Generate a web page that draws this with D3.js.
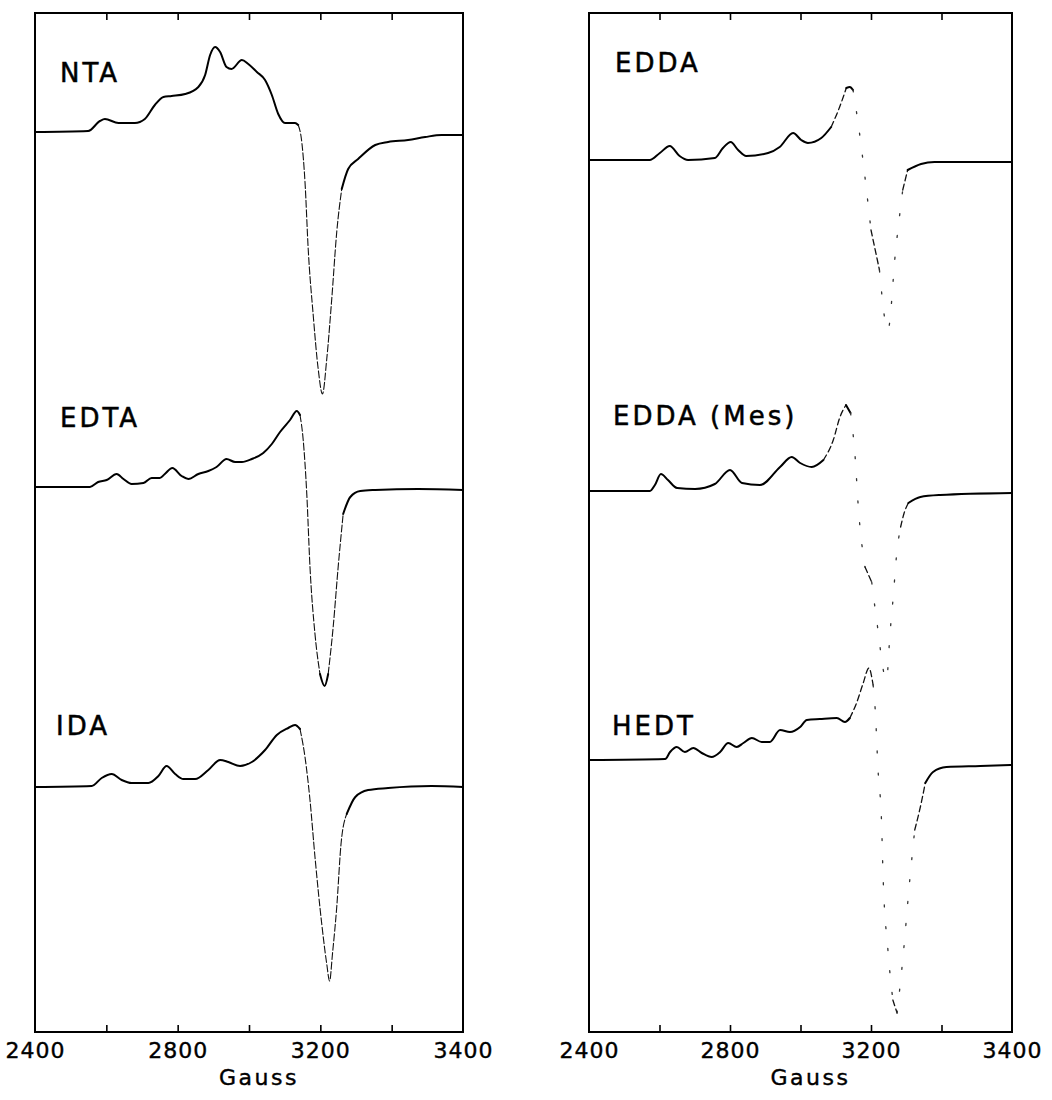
<!DOCTYPE html>
<html>
<head>
<meta charset="utf-8">
<script src="https://cdn.jsdelivr.net/npm/d3@7"></script>
<style>
  body { margin: 0; background: #fff; }
  svg { display: block; }
</style>
</head>
<body>
<svg id="chart" width="1052" height="1100"></svg>
<script>
// EPR first-derivative spectra of Cu(II) chelates.
// Field in Gauss; signal in arbitrary units relative to each trace's own baseline.

const ntaField  = [2400,2549,2582,2596,2634,2680,2708,2736,2760,2783,2821,2858,2877,2891,2905,2919,2937,2951,2980,2998,3022,3045,3064,3082,3101,3129,3138,3148,3157,3166,3180,3194,3203,3209,3216,3223,3230,3239,3253,3277,3295,3323,3347,3370,3400];
const ntaSignal = [0,1,11,13,9,9,13,27,35,36,38,45,57,77,85,80,65,63,72,68,60,52,37,18,9,9,7,-10,-50,-117,-183,-237,-262,-227,-167,-100,-57,-37,-27,-13,-10,-8,-5,-3,-3];

const edtaField  = [2400,2554,2577,2601,2629,2648,2671,2704,2727,2750,2764,2785,2811,2830,2858,2886,2909,2937,2961,2980,3008,3040,3064,3087,3115,3134,3143,3152,3162,3171,3185,3199,3206,3211,3218,3225,3232,3242,3256,3277,3337,3400];
const edtaSignal = [0,0,5,7,13,8,3,4,9,9,13,19,11,8,13,16,20,28,25,25,28,34,43,55,67,76,72,47,-7,-80,-147,-187,-199,-187,-140,-80,-27,-10,-4,-3,-2,-3];

const idaField  = [2400,2559,2587,2615,2643,2671,2718,2746,2769,2793,2816,2849,2886,2919,2942,2975,3008,3045,3078,3110,3129,3143,3157,3171,3185,3202,3209,3213,3217,3223,3229,3237,3249,3267,3295,3356,3400];
const idaSignal = [0,1,9,13,7,4,4,11,21,13,8,8,17,27,25,21,25,37,52,59,62,58,30,-13,-70,-137,-177,-194,-167,-120,-57,-27,-10,-3,-1,1,0];

const eddaField  = [2400,2572,2601,2629,2657,2681,2757,2780,2802,2823,2846,2908,2941,2979,3002,3021,3059,3087,3111,3130,3140,3149,3158,3163,3200,3212,3224,3235,3245,3252,3271,3290,3400];
const eddaSignal = [0,0,7,14,4,0,2,12,18,10,4,7,13,27,20,17,22,33,53,72,73,70,50,38,-70,-110,-170,-90,-30,-10,-4,-2,-2];

const eddaMesField  = [2400,2573,2587,2604,2624,2650,2701,2757,2800,2834,2885,2942,2975,2999,3032,3065,3093,3112,3129,3142,3155,3164,3183,3201,3208,3222,3227,3232,3236,3242,3247,3253,3270,3298,3400];
const eddaMesSignal = [0,0,6,17,11,3,2,7,21,8,6,24,34,28,24,31,51,74,86,78,34,-16,-76,-91,-129,-189,-142,-102,-66,-36,-22,-12,-6,-4,-2];

const hedtField  = [2400,2616,2630,2649,2672,2696,2720,2748,2772,2795,2819,2838,2862,2890,2913,2942,2970,2999,3018,3055,3103,3126,3140,3159,3178,3194,3203,3206,3210,3215,3217,3224,3231,3237,3245,3255,3262,3270,3277,3288,3307,3355,3400];
const hedtSignal = [0,1,8,13,8,12,7,3,8,17,13,17,22,18,18,30,28,33,40,41,42,38,42,57,77,92,75,50,-10,-63,-113,-190,-240,-253,-200,-120,-70,-47,-23,-12,-7,-6,-5];

const traceNames = ["NTA", "EDTA", "IDA", "EDDA", "EDDA (Mes)", "HEDT"];
const baselines  = [900, 545, 245, 872, 541, 272];   // vertical offset of each trace (a.u.)
const fieldLabels = [2400, 2800, 3200, 3400];        // labelled field values
const fieldTicks  = [2600, 2800, 3000, 3200, 3300];  // inner tick marks
const axisTitle = "Gauss";

// ---------- layout ----------
const svg = d3.select("#chart");
const frameTop = 13, frameBottom = 1032;
const panels = [
  { x0: 35,  x1: 463,  traces: [0, 1, 2], labelX: [60, 60, 56], labelY: [82, 427, 735],
    t1: 4.5, t2: Infinity },
  { x0: 589, x1: 1012, traces: [3, 4, 5], labelX: [615, 613, 612], labelY: [72, 425, 735],
    t1: 2.0, t2: 6.0 }
];
const traceData = [
  [ntaField, ntaSignal], [edtaField, edtaSignal], [idaField, idaSignal],
  [eddaField, eddaSignal], [eddaMesField, eddaMesSignal], [hedtField, hedtSignal]
];

const yScale = d3.scaleLinear().domain([0, frameBottom - frameTop]).range([frameBottom, frameTop]);
const line = d3.line().curve(d3.curveMonotoneX);

// pen styles: slow sweep (solid ink), fast sweep (thin broken ink), very fast (sparse dots)
function penStyles(panelIndex) {
  if (panelIndex === 0) {
    return [
      { w: 2.0, dash: null,    c: "#000" },
      { w: 1.1, dash: "7,2.5", c: "#111" },
      { w: 1.1, dash: "7,2.5", c: "#111" }
    ];
  }
  return [
    { w: 2.0, dash: null,     c: "#000" },
    { w: 1.3, dash: "6,3.5",  c: "#111" },
    { w: 1.3, dash: "2,20",   c: "#333" }
  ];
}

panels.forEach((p, pi) => {
  const w = p.x1 - p.x0;
  const xScale = d3.scaleLinear()
    .domain(fieldLabels)
    .range([p.x0, p.x0 + w / 3, p.x0 + 2 * w / 3, p.x1]);

  const g = svg.append("g");
  const styles = penStyles(pi);

  // spectra
  p.traces.forEach((ti, k) => {
    const [field, signal] = traceData[ti];
    const pts = field.map((f, i) => [xScale(f), yScale(baselines[ti] + signal[i])]);
    const cls = [];
    for (let i = 0; i < pts.length - 1; i++) {
      const s = Math.abs((pts[i + 1][1] - pts[i][1]) / (pts[i + 1][0] - pts[i][0]));
      cls.push(s < p.t1 ? 0 : (s < p.t2 ? 1 : 2));
    }
    let start = 0;
    for (let i = 1; i <= cls.length; i++) {
      if (i === cls.length || cls[i] !== cls[start]) {
        const st = styles[cls[start]];
        g.append("path")
          .attr("d", line(pts.slice(start, i + 1)))
          .attr("fill", "none")
          .attr("stroke", st.c)
          .attr("stroke-width", st.w)
          .attr("stroke-linejoin", "round")
          .attr("stroke-linecap", "round")
          .attr("stroke-dasharray", st.dash);
        start = i;
      }
    }

    g.append("text")
      .attr("x", p.labelX[k])
      .attr("y", p.labelY[k])
      .attr("font-family", "DejaVu Sans")
      .attr("font-size", 26)
      .attr("letter-spacing", 3)
      .attr("fill", "#000")
      .attr("stroke", "#000")
      .attr("stroke-width", 0.5)
      .text(traceNames[ti]);
  });

  // frame
  g.append("rect")
    .attr("x", p.x0).attr("y", frameTop)
    .attr("width", w).attr("height", frameBottom - frameTop)
    .attr("fill", "none").attr("stroke", "#000").attr("stroke-width", 2);

  // inward ticks, bottom and top
  const tickBottom = g.append("g").attr("transform", `translate(0,${frameBottom})`)
    .call(d3.axisBottom(xScale).tickValues(fieldTicks).tickSize(-7).tickFormat(""));
  const tickTop = g.append("g").attr("transform", `translate(0,${frameTop})`)
    .call(d3.axisTop(xScale).tickValues(fieldTicks).tickSize(-7).tickFormat(""));
  [tickBottom, tickTop].forEach(a => {
    a.select(".domain").remove();
    a.selectAll("line").attr("stroke", "#000").attr("stroke-width", 1.6);
  });

  // field labels
  const lab = g.append("g").attr("transform", `translate(0,${frameBottom})`)
    .call(d3.axisBottom(xScale).tickValues(fieldLabels).tickSize(0).tickPadding(10)
      .tickFormat(d3.format("d")));
  lab.select(".domain").remove();
  lab.selectAll("text")
    .attr("font-family", "DejaVu Sans")
    .attr("font-size", 22)
    .attr("letter-spacing", 1)
    .attr("fill", "#000")
    .attr("stroke", "#000")
    .attr("stroke-width", 0.4);

  g.append("text")
    .attr("x", (p.x0 + p.x1) / 2 + 10)
    .attr("y", 1085)
    .attr("text-anchor", "middle")
    .attr("font-family", "DejaVu Sans")
    .attr("font-size", 22)
    .attr("letter-spacing", 2.5)
    .attr("fill", "#000")
    .attr("stroke", "#000")
    .attr("stroke-width", 0.4)
    .text(axisTitle);
});
</script>
</body>
</html>
